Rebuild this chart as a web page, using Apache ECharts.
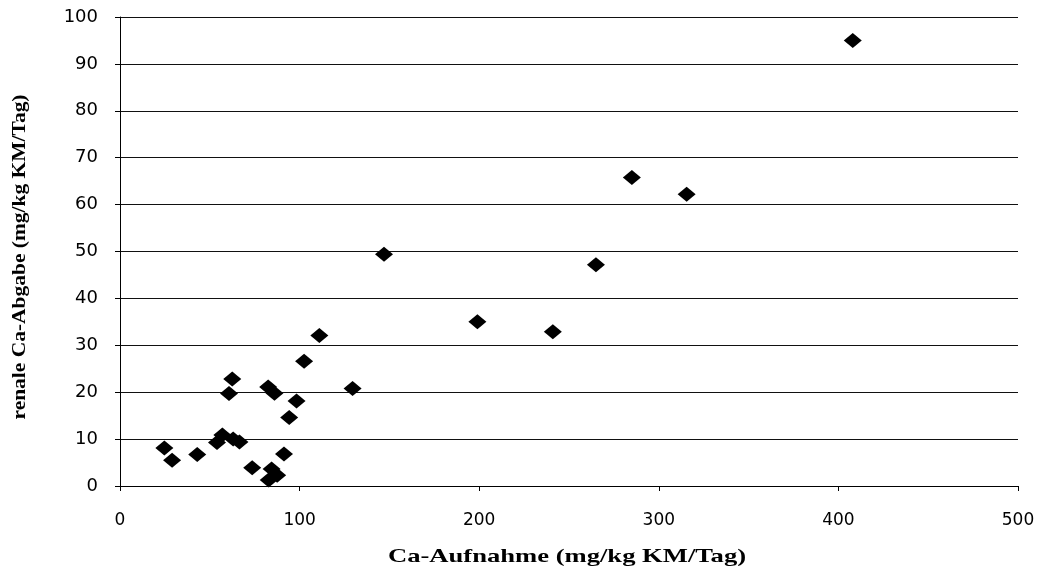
<!DOCTYPE html>
<html>
<head>
<meta charset="utf-8">
<script src="https://cdn.jsdelivr.net/npm/echarts@6/dist/echarts.min.js"></script>
<style>
html,body{margin:0;padding:0;background:#fff;}
#chart{width:1042px;height:575px;}
</style>
</head>
<body>
<div id="chart"></div>
<script>
// Ca intake (x) and renal Ca excretion (y)
const caIntake = [408, 285, 315.5, 147, 265, 199, 241,
  111, 102.5, 62.5, 60.7, 82.5, 86, 129.5, 98.3, 94.2,
  54, 57, 63, 66.5,
  24.7, 29, 43, 91.3, 73.6, 84.4, 87.5, 82.8];
const renalExcretion = [95, 65.8, 62.2, 49.4, 47.2, 35, 32.9,
  32.1, 26.6, 22.8, 19.7, 21.1, 19.8, 20.8, 18.1, 14.6,
  9.3, 10.9, 10, 9.4,
  8.1, 5.5, 6.7, 6.8, 3.9, 3.6, 2.3, 1.3];
const xTitle = 'Ca-Aufnahme (mg/kg KM/Tag)';
const yTitle = 'renale Ca-Abgabe (mg/kg KM/Tag)';

const points = caIntake.map((x, i) => [x, renalExcretion[i]]);

const titleFont = { fontFamily: 'Liberation Serif', fontWeight: 'bold', fontSize: 19, fill: '#000' };

const chart = echarts.init(document.getElementById('chart'));
chart.setOption({
  animation: false,
  backgroundColor: '#ffffff',
  grid: { left: 120, right: 24, top: 17, bottom: 89, containLabel: false },
  graphic: [
    {
      type: 'text', x: 567, y: 557, scaleX: 1.4, scaleY: 1,
      style: Object.assign({ text: xTitle, align: 'center', verticalAlign: 'middle' }, titleFont)
    },
    {
      type: 'text', x: 20, y: 257, rotation: Math.PI / 2, scaleX: 1.13, scaleY: 1,
      style: Object.assign({ text: yTitle, align: 'center', verticalAlign: 'middle' }, titleFont)
    }
  ],
  xAxis: {
    type: 'value', min: 0, max: 500, interval: 100,
    axisLine: { show: true, lineStyle: { color: '#000', width: 1 } },
    axisTick: { show: true, length: 5, lineStyle: { color: '#000' } },
    axisLabel: { color: '#000', fontFamily: 'DejaVu Sans', fontSize: 17, margin: 26 },
    splitLine: { show: false }
  },
  yAxis: {
    type: 'value', min: 0, max: 100, interval: 10,
    axisLine: { show: true, lineStyle: { color: '#000', width: 1 } },
    axisTick: { show: true, length: 5, lineStyle: { color: '#000' } },
    axisLabel: { color: '#000', fontFamily: 'DejaVu Sans', fontSize: 18, margin: 22 },
    splitLine: { show: true, lineStyle: { color: '#111', width: 1 } }
  },
  series: [{
    type: 'scatter',
    data: points,
    symbol: 'diamond',
    symbolSize: [18, 15],
    itemStyle: { color: '#000', opacity: 1 }
  }]
});
</script>
</body>
</html>
